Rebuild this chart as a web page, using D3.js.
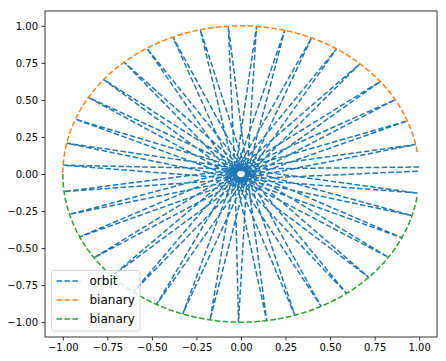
<!DOCTYPE html>
<html><head><meta charset="utf-8">
<script src="https://cdn.jsdelivr.net/npm/d3@7"></script>
<style>body{margin:0;background:#fff}svg{display:block}text{font-family:"DejaVu Sans",sans-serif;fill:#000}</style>
</head><body><svg id="c" width="446" height="361"></svg>
<script>
// Orbit: apocentre directions (degrees) in time order
const apexAngle = [2.7, 11.5, 21.0, 30.1, 38.6, 48.1, 57.6, 66.7, 75.8, 85.0, 94.1, 103.2, 112.5, 121.9, 131.0, 140.4, 148.9, 158.3, 168.0, 176.6, 186.8, 195.8, 205.1, 214.4, 223.6, 232.8, 241.7, 250.9, 260.0, 269.2, 278.3, 287.6, 296.7, 306.3, 315.8, 325.8, 334.5, 343.7, 352.6, 361.1];
const apexRadius = 1.0;
// pericentre passage: radius at the flanks and at the far-side tip
const periFlank = 0.034;
const periTip = 0.045;
// binary: angular extent (degrees) of the two drawn halves
const binaryUpper = [8.5, 180];
const binaryLower = [180, 351.7];
const xTicks = [-1.0, -0.75, -0.5, -0.25, 0.0, 0.25, 0.5, 0.75, 1.0];
const yTicks = [-1.0, -0.75, -0.5, -0.25, 0.0, 0.25, 0.5, 0.75, 1.0];
const seriesNames = ["orbit", "bianary", "bianary"];
const seriesColors = ["#1f77b4", "#ff7f0e", "#2ca02c"];

const m = {left: 45, top: 11, right: 437, bottom: 337};
const x = d3.scaleLinear().domain([-1.1, 1.1]).range([m.left, m.right]);
const y = d3.scaleLinear().domain([-1.1, 1.1]).range([m.bottom, m.top]);
const svg = d3.select("#c");
const rad = d => d * Math.PI / 180;
const pol = (r, a) => [r * Math.cos(rad(a)), r * Math.sin(rad(a))];

// orbit path
const orbitPts = [];
for (let i = 0; i < apexAngle.length; i++) {
  const a = apexAngle[i];
  orbitPts.push(pol(apexRadius, a));
  if (i < apexAngle.length - 1) {
    const b = apexAngle[i + 1];
    orbitPts.push(pol(periFlank, a + 90));
    orbitPts.push(pol(periTip, (a + b) / 2 + 180));
    orbitPts.push(pol(periFlank, b - 90));
  }
}
const line = d3.line().x(d => x(d[0])).y(d => y(d[1]));
const dash = "5.55,2.4";

const plot = svg.append("g");
plot.append("path").datum(orbitPts).attr("d", line)
  .attr("fill", "none").attr("stroke", seriesColors[0]).attr("stroke-width", 1.5)
  .attr("stroke-dasharray", dash);

function arcPts(range) {
  const n = 200, pts = [];
  for (let k = 0; k <= n; k++) pts.push(pol(1, range[0] + (range[1] - range[0]) * k / n));
  return pts;
}
[binaryUpper, binaryLower].forEach((rg, j) => {
  plot.append("path").datum(arcPts(rg)).attr("d", line)
    .attr("fill", "none").attr("stroke", seriesColors[j + 1]).attr("stroke-width", 1.5)
    .attr("stroke-dasharray", dash);
});

// axes
const fmt = d3.format(".2f");
const tf = v => fmt(v).replace("-", "\u2212");
const xa = svg.append("g").attr("transform", `translate(0,${m.bottom})`)
  .call(d3.axisBottom(x).tickValues(xTicks).tickFormat(tf).tickSizeInner(3.5).tickSizeOuter(0).tickPadding(3.5));
const ya = svg.append("g").attr("transform", `translate(${m.left},0)`)
  .call(d3.axisLeft(y).tickValues(yTicks).tickFormat(tf).tickSizeInner(3.5).tickSizeOuter(0).tickPadding(3.5));
[xa, ya].forEach(g => {
  g.select(".domain").remove();
  g.selectAll("line").attr("stroke", "#000").attr("stroke-width", 0.8);
  g.selectAll("text").attr("font-size", 10).attr("font-family", "DejaVu Sans").attr("fill", "#000");
});
svg.append("rect").attr("x", m.left).attr("y", m.top)
  .attr("width", m.right - m.left).attr("height", m.bottom - m.top)
  .attr("fill", "none").attr("stroke", "#000").attr("stroke-width", 0.8);

// legend
const lg = svg.append("g").attr("transform", "translate(51.5,270.5)");
lg.append("rect").attr("width", 88.5).attr("height", 60.5).attr("rx", 2.5)
  .attr("fill", "#fff").attr("fill-opacity", 0.8).attr("stroke", "#ccc").attr("stroke-width", 0.8);
seriesNames.forEach((s, i) => {
  const cy = 10.5 + i * 19;
  lg.append("line").attr("x1", 5).attr("x2", 29).attr("y1", cy).attr("y2", cy)
    .attr("stroke", seriesColors[i]).attr("stroke-width", 1.5).attr("stroke-dasharray", dash);
  lg.append("text").attr("x", 38).attr("y", cy).attr("dy", "0.36em")
    .attr("font-size", 12).text(s);
});
</script></body></html>
